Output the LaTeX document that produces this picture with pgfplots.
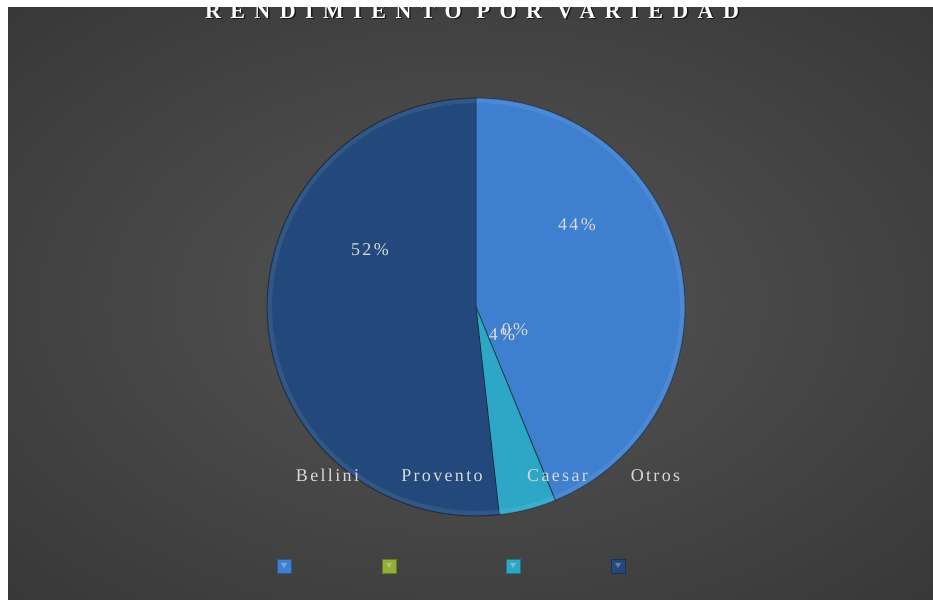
\documentclass[border=0pt]{standalone}
\usepackage{pgfplots}
\pgfplotsset{compat=1.18}
\usepackage{pgfplotstable}
\usetikzlibrary{calc}
\usepackage{fontspec}
\setmainfont{Liberation Serif}
\newfontfamily\labfont[LetterSpace=13]{Liberation Serif}
\newfontfamily\titfont[LetterSpace=43]{Liberation Serif}
\definecolor{bgin}{HTML}{4E4E4E}
\definecolor{bgmid}{HTML}{303030}
\definecolor{bgout}{HTML}{262626}
\definecolor{slice0}{HTML}{3F7FCF}
\definecolor{slice1}{HTML}{8FB032}
\definecolor{slice2}{HTML}{2EA6C6}
\definecolor{slice3}{HTML}{23497C}
\definecolor{labcol}{HTML}{D9D9D9}
\pgfdeclareradialshading{bgshade}{\pgfpoint{0bp}{0bp}}{color(0bp)=(bgin); color(8bp)=(bgin); color(45bp)=(bgmid); color(71bp)=(bgout); color(100bp)=(bgout)}
\pgfplotstableread{
label value
Bellini 43.8
Provento 0.02
Caesar 4.4
Otros 51.78
}\piedata
\newcommand\legmark[2]{%
  \fill[#2, draw=#2!70!black, line width=0.6pt] (axis cs:#1-7,26) rectangle (axis cs:#1+7,40);
  \fill[#2!50!white, opacity=0.6] (axis cs:#1-3,36) -- (axis cs:#1+3,36) -- (axis cs:#1,31) -- cycle;}
\tikzset{lab/.style={anchor=base, text=labcol, font=\labfont\fontsize{18}{18}\selectfont}}
\begin{document}
\begin{tikzpicture}
\fill[white] (0,0) rectangle (933pt,599pt);
\shade[shading=bgshade] (8pt,0pt) rectangle (933pt,592pt);
\begin{axis}[at={(0,0)}, anchor=south west, width=933pt, height=599pt,
  scale only axis, xmin=0, xmax=933, ymin=0, ymax=599, hide axis, clip=false]
\def\startang{90}
\pgfplotsforeachungrouped \i in {0,...,3}{%
  \pgfplotstablegetelem{\i}{value}\of\piedata
  \pgfmathsetmacro\endang{\startang - 3.6*\pgfplotsretval}%
  \edef\temp{\noexpand\fill[slice\i, draw=black, draw opacity=0.35, line width=0.9pt]
    (axis cs:476,292) -- ++(\startang:209pt) arc[start angle=\startang, end angle=\endang, radius=209pt] -- cycle;
    \noexpand\draw[slice\i!75!white, opacity=0.3, line width=4pt]
    ($(axis cs:476,292)+(\startang:206pt)$) arc[start angle=\startang, end angle=\endang, radius=206pt];}%
  \temp
  \global\let\startang\endang
}
% data labels
\node[lab] at (axis cs:577,368) {44\%};
\node[lab] at (axis cs:370,343) {52\%};
\node[lab] at (axis cs:502,258) {4\%};
\node[lab] at (axis cs:515,263) {0\%};
% category labels
\node[lab] at (axis cs:327.5,117) {Bellini};
\node[lab] at (axis cs:442,117) {Provento};
\node[lab] at (axis cs:557.5,117) {Caesar};
\node[lab] at (axis cs:655.5,117) {Otros};
% legend markers
\legmark{284}{slice0}
\legmark{389}{slice1}
\legmark{513}{slice2}
\legmark{618}{slice3}
% title
\node[anchor=base, text=black, opacity=0.6, font=\titfont\bfseries\fontsize{22}{22}\selectfont] at (axis cs:473.5,579) {RENDIMIENTO POR VARIEDAD};
\node[anchor=base, text=white, font=\titfont\bfseries\fontsize{22}{22}\selectfont] at (axis cs:472,580.5) {RENDIMIENTO POR VARIEDAD};
\end{axis}
\fill[white] (0,592pt) rectangle (933pt,599pt);
\fill[white] (0,0) rectangle (8pt,599pt);
\end{tikzpicture}
\end{document}
